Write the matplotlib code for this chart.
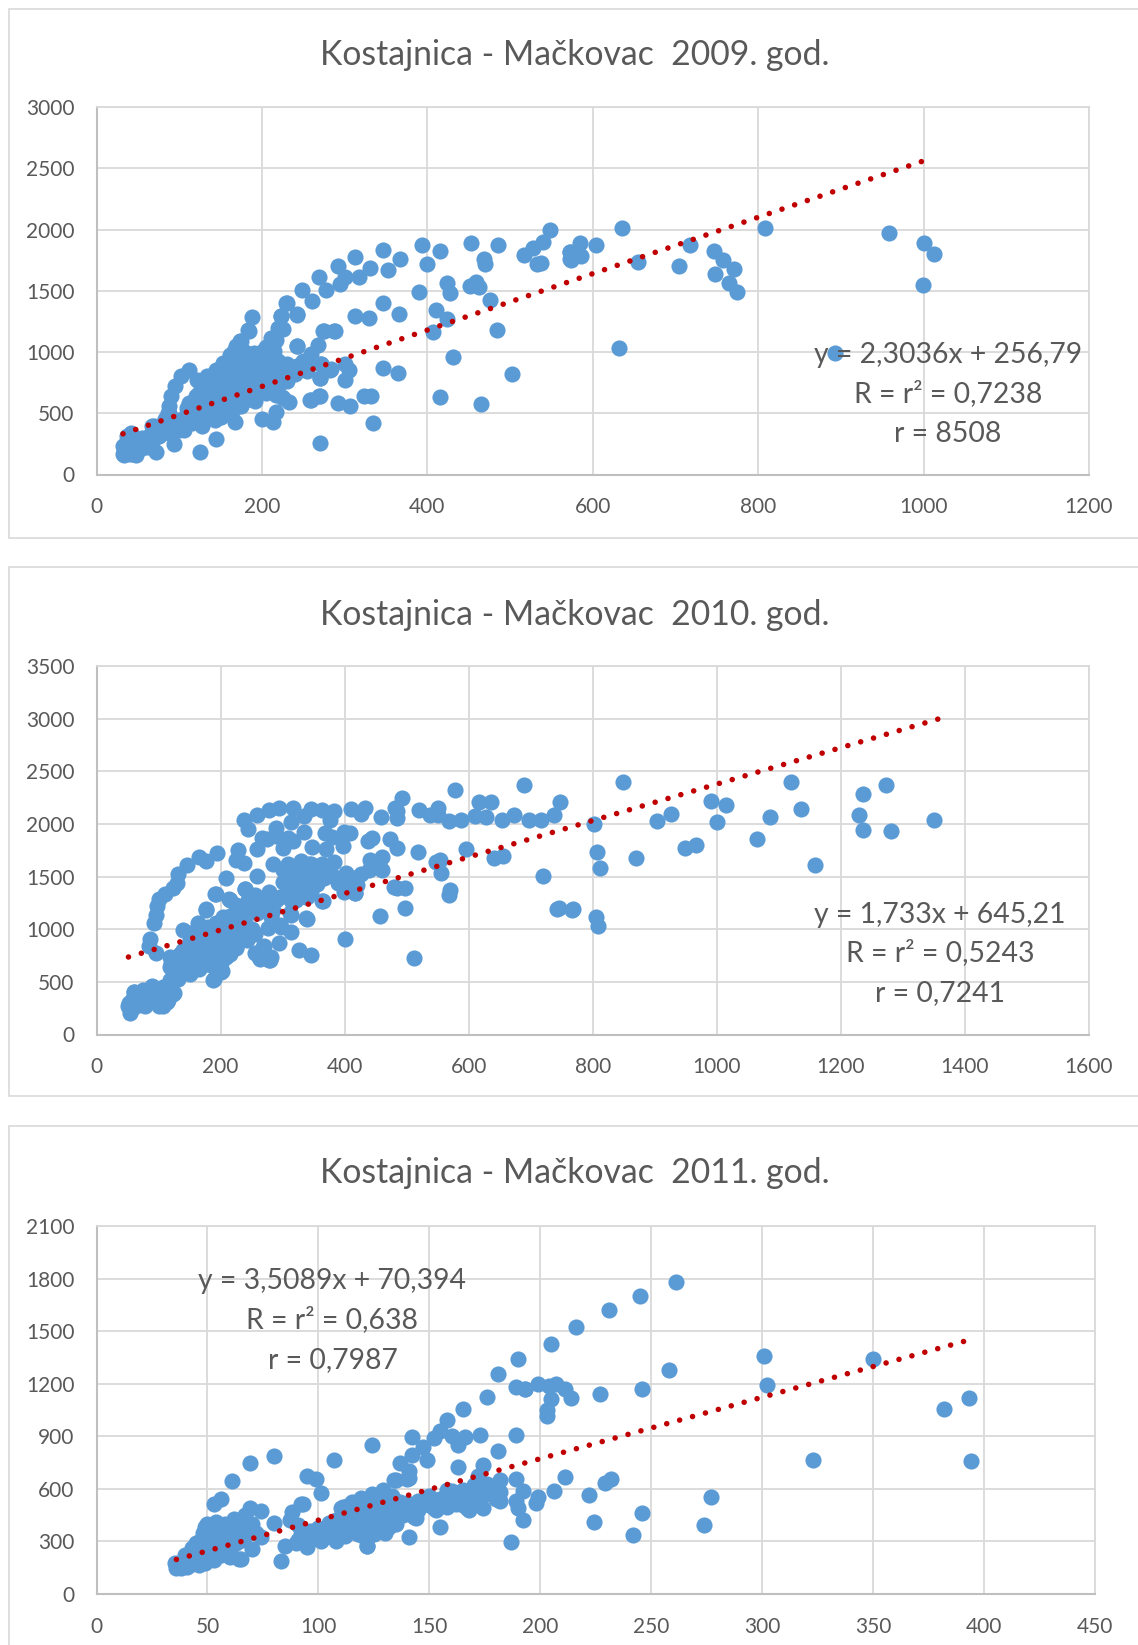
# Scatter plots of Kostajnica - Mackovac for three years with a linear trend
import numpy as np
import matplotlib
matplotlib.use('Agg')
import matplotlib.pyplot as plt
from matplotlib.patches import Rectangle

plt.rcParams['font.family'] = ['Lato', 'DejaVu Sans']

WIDTH = 1138
HEIGHT = 1645

titles = ['Kostajnica - Mačkovac  2009. god.', 'Kostajnica - Mačkovac  2010. god.', 'Kostajnica - Mačkovac  2011. god.']

xticks_2009 = [0, 200, 400, 600, 800, 1000, 1200]
yticks_2009 = [0, 500, 1000, 1500, 2000, 2500, 3000]
xticks_2010 = [0, 200, 400, 600, 800, 1000, 1200, 1400, 1600]
yticks_2010 = [0, 500, 1000, 1500, 2000, 2500, 3000, 3500]
xticks_2011 = [0, 50, 100, 150, 200, 250, 300, 350, 400, 450]
yticks_2011 = [0, 300, 600, 900, 1200, 1500, 1800, 2100]

trend_x_2009 = [32, 1009]
trend_y_2009 = [332, 2581]
trend_x_2010 = [51.5, 1362]
trend_y_2010 = [736, 3005]
trend_x_2011 = [36, 394.5]
trend_y_2011 = [197, 1454]

label_2009 = ['y = 2,3036x + 256,79', 'R = r² = 0,7238', 'r = 8508']
label_2010 = ['y = 1,733x + 645,21', 'R = r² = 0,5243', 'r = 0,7241']
label_2011 = ['y = 3,5089x + 70,394', 'R = r² = 0,638', 'r = 0,7987']

points_2009 = [
    (548,1993),(540,1899),(528,1847),(517,1790),(532,1721),(538,1727),(572,1813),(574,1750),(486,1876),(453,1890),
    (469,1756),(470,1721),(415,1827),(399,1716),(393,1876),(367,1756),(353,1670),(347,1836),(331,1684),(312,1779),
    (317,1613),(301,1613),(292,1698),(294,1556),(278,1510),(269,1613),(260,1418),(248,1504),(230,1398),(243,1307),
    (223,1293),(188,1284),(184,1172),(174,1087),(166,1012),(219,1198),(225,1190),(211,1112),(213,1055),(390,1490),
    (424,1561),(428,1484),(451,1541),(459,1570),(463,1533),(476,1424),(411,1344),(424,1270),(407,1167),(484,1178),
    (431,961),(502,821),(347,1401),(312,1293),(329,1278),(366,1307),(275,1170),(288,1172),(268,1061),(259,984),
    (242,1047),(346,872),(364,832),(272,898),(301,898),(305,855),(283,861),(301,772),(270,789),(255,841),
    (248,912),(235,869),(219,927),(415,635),(465,575),(324,640),(332,640),(259,612),(270,640),(292,583),
    (306,560),(334,423),(270,260),(233,589),(224,632),(200,449),(213,432),(217,512),(168,432),(145,292),
    (125,183),(94,252),(72,183),
    (635,2016),(604,1873),(585,1892),(573,1819),(586,1784),(572,1757),(578,1792),(655,1735),(704,1700),(718,1873),
    (747,1824),(757,1749),(771,1681),(748,1640),(765,1565),(774,1486),(808,2016),(958,1968),(1001,1892),(1012,1797),
    (999,1551),(632,1035),(893,995),
    (112,584),(124,665),(135,775),(145,856),(153,910),(161,978),(169,1046),(175,1087),(183,1177),
    (191,992),(181,937),(201,1005),(209,1005),(217,937),(217,1100),(229,1399),(223,1296),(242,1304),(242,1052),
    (274,1168),(287,1174),(250,924),(272,905),(282,856),(270,788),(238,870),(225,829),(211,774),(201,747),
    (193,802),(189,910),(201,870),(185,720),(181,611),(192,598),(205,666),(217,652),(225,625),(258,606),
    (269,644),(153,720),(161,706),(169,679),(177,639),(147,530),(143,448),(128,394),(106,367),(155,516),
    (167,584),(137,570),(128,584),(120,557),(112,475),(100,448),(92,421),(84,367),(76,312),(141,747),
    (133,802),(145,829),(165,965),(157,910),(171,978),(179,951),(197,951),(205,883),(197,856),(213,870),
    (221,856),(223,802),(232,815),(242,883),(256,938),(141,666),(133,639),(149,639),(116,448),(133,503),
    (124,448),(108,448),(96,394),(100,367),(88,340),(80,340),(64,312),(56,258),(44,258),(48,204),
    (40,204),(33,163),(32,231),(36,258),(37,312),(42,177),(48,163),(56,285),(60,231),(68,285),
    (72,340),(78,394),(86,503),(88,557),(90,639),(95,726),(102,807),(112,850),(121,775),(128,720),
    (32,170),(33,185),(35,200),(36,215),(34,235),(38,260),(40,290),(42,335),(37,175),(40,165),
    (44,170),(47,180),(50,200),(48,240),(52,265),(55,300),(58,270),(60,250),(62,225),(65,235),
    (71,330),(75,380),(67,398),(70,394),(80,410),(83,450),(88,500),
    (110,500),(118,520),(125,560),(130,610),(138,620),(145,680),(152,760),(158,800),(165,840),(172,860),
    (180,880),(188,850),(195,900),(205,930),(210,960),(200,960),(180,1000),(170,900),(160,640),(170,620),
    (180,660),(190,690),(200,690),(210,700),(220,720),(230,760),(175,560),(165,530),(155,600),(145,590),
    (135,500),(125,500),(115,420),(105,430),(95,440),(85,420),(75,350),(65,290),(55,220),(48,270),
    (40,250),(150,470),(160,570),(170,750),(180,790),(190,760),(200,800),(210,830),(220,890),(230,900),
    (240,820),(190,950),(215,1010),(205,1040),(180,960),(175,950),(120,640),(110,540),(130,700),(125,630),
    (160,800),(150,830),(140,700),(155,860),
]

points_2010 = [
    (689,2371),(578,2321),(492,2244),(481,2155),(485,2054),(484,2121),(520,2131),(537,2088),(550,2148),(550,2081),
    (568,2028),(588,2038),(610,2071),(617,2204),(636,2204),(628,2065),(653,2038),(673,2081),(697,2038),(716,2038),
    (737,2088),(747,2204),(459,2065),(411,2145),(426,2098),(433,2155),(383,2121),(364,2131),(376,2038),(345,2145),
    (335,2071),(316,2155),(314,2021),(295,2148),(278,2131),(259,2088),(238,2038),(244,1955),(290,1961),(266,1871),
    (275,1855),(308,1871),(290,1888),(317,1838),(301,1772),(258,1762),(335,1921),(347,1778),(369,1911),(380,1878),
    (370,1762),(399,1921),(408,1911),(398,1788),(438,1838),(444,1871),(473,1855),(485,1772),(519,1732),(595,1762),
    (640,1672),(655,1695),(553,1655),(547,1638),(555,1532),(720,1505),(460,1682),(441,1655),(461,1565),(450,1588),
    (426,1522),(414,1489),(402,1538),(382,1505),(367,1489),(364,1622),(383,1638),(308,1622),(342,1615),(329,1572),
    (308,1465),(337,1472),(326,1405),(346,1355),(337,1305),(497,1389),(479,1405),(485,1389),(570,1372),(568,1322),
    (498,1205),(457,1122),(417,1345),(365,1272),(399,1355),(745,1205),(768,1189),(401,906),(512,729),(346,756),
    (326,806),(295,872),(314,972),(339,1099),(314,1139),(296,1039),(276,1012),(281,1139),(296,1305),(278,1355),
    (255,1322),(240,1379),(192,1332),(214,1289),(176,1189),(209,1489),(225,1655),(228,1755),(238,1628),(259,1505),
    (177,1645),(194,1722),(165,1688),(146,1612),(132,1522),(130,1439),(124,1389),(110,1339),(101,1289),(97,1222),
    (96,1139),(93,1056),(87,906),(85,839),(96,772),(281,739),(278,706),(262,739),(255,772),(270,839),
    (255,956),(243,906),(225,822),(208,739),(202,606),(189,523),
    (54,240),(51,273),(54,206),(57,323),(61,406),(66,306),(78,273),(81,373),(90,456),(101,273),
    (107,273),(113,306),(125,390),(119,473),(131,523),(110,373),(96,340),(75,423),(63,273),(52,300),
    (118,642),(118,737),(150,578),(155,610),(188,515),(201,594),(177,674),(193,705),(209,769),(225,833),
    (242,896),(268,833),(263,721),(279,706),(338,1103),(298,1023),(274,1198),(282,1118),(312,1150),(322,1277),
    (339,1309),(364,1271),(400,1373),(416,1341),(139,991),(150,960),(163,1055),(177,1182),(191,1335),(215,1277),
    (239,1379),(225,1230),(247,1214),(258,1150),(204,1119),(188,991),(171,896),(161,833),(139,801),(128,737),
    (139,674),(161,674),(177,769),(198,864),(215,991),(225,1055),(236,1150),(193,1055),(182,928),(204,928),
    (150,896),(134,610),(118,515),(107,451),(91,451),(123,388),(115,324),(101,276),(77,276),(61,404),
    (56,292),(56,229),(52,276),
    (849,2399),(802,1997),(807,1734),(811,1578),(870,1680),(904,2029),(926,2092),(948,1769),(966,1803),(990,2219),
    (1015,2177),(1001,2016),(1065,1857),(1085,2070),(1120,2396),(1135,2143),(1158,1607),(1229,2086),(1236,2288),(1236,1946),
    (1273,2368),(1281,1930),(1350,2041),(766,1182),(805,1119),(809,1033),(743,1190),
    (120,680),(125,620),(130,700),(135,760),(140,640),(145,720),(150,800),(155,700),(160,760),(165,620),
    (170,700),(175,820),(180,740),(185,660),(190,800),(195,740),(200,680),(205,860),(210,820),(215,760),
    (220,920),(225,1000),(230,940),(170,950),(180,1020),(190,900),(200,980),(210,1060),(215,1130),(230,1110),
    (240,1060),(250,1000),(160,900),(150,700),(140,720),(130,640),(125,720),(235,1190),(245,1280),(255,1240),
    (265,1270),(275,1300),(285,1180),(290,1280),(305,1320),(315,1260),(325,1340),(335,1400),(320,1500),(335,1560),
    (350,1500),(315,1420),(300,1450),(330,1650),(345,1620),(285,1620),(300,1560),(390,1440),(420,1420),(440,1560),
    (395,1480),(375,1540),(355,1430),(70,340),(85,320),(95,400),(105,330),(115,370),(75,300),(65,350),
    (60,300),(85,400),(100,420),(110,310),(120,420),
]

points_2011 = [
    (205,1428),(190,1340),(181,1257),(176,1126),(165,1056),(158,994),(189,1184),(193,1169),(199,1198),(205,1110),
    (203,1048),(203,1015),(142,898),(124,849),(80,787),(69,748),(107,762),(95,672),(99,658),(61,645),
    (101,575),(56,540),(53,512),(50,395),(93,512),(173,906),(189,906),(181,814),(163,723),(174,736),
    (172,672),(149,762),(147,838),(155,931),(152,892),(160,902),(166,896),(163,853),(137,750),(142,795),
    (141,701),(141,662),(135,649),(189,658),(182,649),(211,668),(206,586),(192,425),(141,327),(155,382),
    (187,298),(122,275),(83,191),(64,197),(70,255),(199,551),(198,522),(192,590),(189,532),(190,493),
    (182,532),(182,580),(174,493),(168,590),(168,479),(144,434),
    (261,1783),(245,1701),(231,1618),(216,1523),(301,1359),(302,1194),(350,1340),(258,1276),(246,1168),(227,1143),
    (214,1118),(211,1171),(207,1196),(204,1187),(193,1171),(382,1054),(393,1118),(323,763),(394,759),(232,659),
    (229,634),(222,564),(277,552),(246,465),(224,412),(274,391),(242,336),(176,625),(181,592),(180,544),
    (35.5,178),(36,146),(38,146),(41,156),(40,222),(49,194),(45,194),(47,250),(49,384),(50,402),
    (74,473),(69,488),(67,450),(61,402),(56,374),(53,346),(63,346),(69,374),(74,327),(65,199),
    (60,289),(57,270),(54,250),(51,232),(47,308),(45,289),(43,260),(48,346),(43,213),(49,175),
    (53,194),(57,241),(61,317),(66,355),(58,365),(62,393),(80,406),(88,469),(92,516),(87,421),
    (91,393),(85,275),(95,270),(91,308),(96,336),(102,346),(106,384),(111,497),(115,526),(119,545),
    (124,573),(129,592),(134,649),(140,659),(90,289),(94,308),(99,317),(103,327),(108,346),(112,365),
    (116,355),(120,374),(124,393),(129,374),(134,440),(128,459),(122,459),(116,440),(111,421),(105,403),
    (100,374),(122,275),(143,440),(141,516),(147,516),(153,478),(153,535),(159,554),(162,516),(167,488),
    (165,592),(170,592),(158,497),(158,592),(137,526),(131,497),(124,516),(120,488),
    (50,230),(52,290),(55,320),(58,300),(60,250),(63,290),(66,310),(68,340),(70,400),(72,350),
    (54,410),(58,400),(62,430),(66,420),(50,270),(47,210),(44,230),(52,210),(56,220),(60,210),
    (40,170),(38,165),(43,170),(46,165),(48,300),
    (95,290),(98,340),(101,300),(105,330),(108,300),(112,330),(115,380),(118,340),(120,420),(125,340),
    (128,420),(132,380),(126,500),(130,500),(118,500),(112,450),(122,520),(114,400),(110,350),(105,370),
    (100,330),(92,340),(96,360),(116,470),(135,470),(138,490),(130,350),(125,440),(120,330),(135,400),
    (138,450),(108,420),(113,500),(118,380),(127,550),(133,560),(110,490),
    (145,480),(150,510),(155,540),(160,530),(148,540),(152,490),(158,560),(163,560),(168,540),(172,520),
    (175,570),(178,600),(150,560),(145,530),(140,520),(165,510),(170,530),(155,500),(160,590),(175,600),
    (170,620),(165,560),
]

fig = plt.figure(figsize=(WIDTH / 100, HEIGHT / 100), dpi=100)


# Pixel position from the top left corner to figure coordinates
def fx(px):
    return px / WIDTH


def fy(py):
    return 1 - py / HEIGHT


def draw_panel(card_top, card_bottom, ax_top, ax_bottom, ax_right, title, title_y,
               points, xticks, yticks, trend_x, trend_y, label, label_x, label_ys):
    # Card border, it runs off the right edge of the picture
    card = Rectangle((fx(8.5), fy(card_bottom)), fx(1200), fy(card_top) - fy(card_bottom),
                     transform=fig.transFigure, facecolor='white', edgecolor='#d9d9d9', linewidth=1.2, zorder=-1)
    fig.add_artist(card)

    ax = fig.add_axes([fx(96.5), fy(ax_bottom), fx(ax_right - 96.5), fy(ax_top) - fy(ax_bottom)])
    ax.set_xlim(xticks[0], xticks[-1])
    ax.set_ylim(yticks[0], yticks[-1])
    ax.set_xticks(xticks)
    ax.set_yticks(yticks)
    ax.grid(True, color='#d9d9d9', linewidth=1.3)
    ax.set_axisbelow(True)
    ax.tick_params(length=0, labelsize=15, labelcolor='#595959')
    ax.tick_params(axis='x', pad=16.5)
    ax.tick_params(axis='y', pad=16)
    for side in ['top', 'right']:
        ax.spines[side].set_color('#d9d9d9')
        ax.spines[side].set_linewidth(1.3)
    for side in ['left', 'bottom']:
        ax.spines[side].set_color('#bfbfbf')
        ax.spines[side].set_linewidth(1.5)

    pts = np.array(points)
    ax.scatter(pts[:, 0], pts[:, 1], s=135, color='#5b9bd5', linewidths=0, zorder=3, clip_on=False)
    ax.plot(trend_x, trend_y, color='#c00000', linewidth=4, linestyle=(0, (0.01, 2.4)),
            dash_capstyle='round', zorder=4)

    fig.text(fx(575), fy(title_y + 3), title, fontsize=24.3, color='#595959', ha='center', va='center')
    for line, y in zip(label, label_ys):
        fig.text(fx(label_x), fy(y + 2), line, fontsize=20.4, color='#595959', ha='center', va='center', zorder=10)


draw_panel(8.5, 538, 107, 474.5, 1089, titles[0], 52, points_2009, xticks_2009, yticks_2009,
           trend_x_2009, trend_y_2009, label_2009, 948, [353.5, 392, 432])
draw_panel(567.5, 1096, 666, 1034.5, 1089, titles[1], 611.5, points_2010, xticks_2010, yticks_2010,
           trend_x_2010, trend_y_2010, label_2010, 940, [912.5, 951, 991])
draw_panel(1126, 1700, 1226, 1594, 1095, titles[2], 1170, points_2011, xticks_2011, yticks_2011,
           trend_x_2011, trend_y_2011, label_2011, 332.5, [1279.5, 1318, 1358])

fig.savefig('out.png', dpi=100)
